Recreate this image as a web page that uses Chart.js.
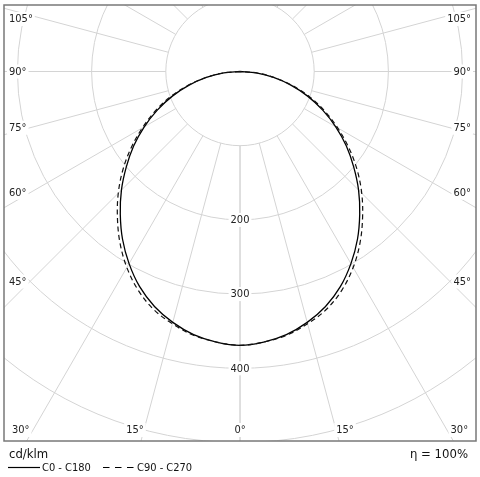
<!DOCTYPE html>
<html>
<head>
<meta charset="utf-8">
<script src="https://cdn.jsdelivr.net/npm/chart.js@4/dist/chart.umd.min.js"></script>
<style>
html,body{margin:0;padding:0;background:#fff;}
#wrap{width:480px;height:477px;}
</style>
</head>
<body>
<div id="wrap"><canvas id="c" width="480" height="477"></canvas></div>
<script>
// ---- data (cd/klm) ----
const gammaDeg = [0,5,10,15,20,25,30,35,40,45,50,55,60,65,70,75,80,85,90];
const c0   = [369,366,360,350,337,320,299,276,251,226,200,175,149,123,97,71,46,22,0];
const c180 = [369,366,360,350,337,320,299,276,251,226,200,175,149,123,97,71,46,22,0];
const c90  = [369,366,361,352,341,325,305,282,257,232,206,179,152,126,100,73,47,23,0];
const c270 = [369,366,361,352,341,325,305,282,257,232,206,179,152,126,100,73,47,23,0];
const seriesNames = ['C0 - C180','C90 - C270'];
// ---- axis ticks ----
const rings = [100,200,300,400,500];
const ringLabels = [200,300,400];
const spokeAngles = [0,15,30,45,60,75,90,105,120,135,150,165,180];
const sideLabels = [105,90,75,60,45];
const bottomLabels = [30,15,0];
const unitText = 'cd/klm';
const etaText = '\u03B7 = 100%';

const PXU = 0.742; // pixels per cd/klm
const FONT = '"DejaVu Sans Condensed","DejaVu Sans",sans-serif';

function halfCurve(vals, sign){
  return gammaDeg.map((g,i)=>{
    const a = g*Math.PI/180;
    return {x: sign*vals[i]*Math.sin(a), y: -vals[i]*Math.cos(a)};
  });
}
function fullCurve(left, right){
  const l = halfCurve(left,-1).reverse();
  const r = halfCurve(right,1).slice(1);
  return l.concat(r);
}

const gridPlugin = {
  id:'polarGrid',
  beforeDatasetsDraw(chart){
    const {ctx, chartArea:ca, scales:{x,y}} = chart;
    const cx = x.getPixelForValue(0), cy = y.getPixelForValue(0);
    const k = x.getPixelForValue(100) - cx; // px per 100
    const rp = v => v/100*k;
    ctx.save();
    ctx.beginPath(); ctx.rect(ca.left, ca.top, ca.right-ca.left, ca.bottom-ca.top); ctx.clip();
    ctx.strokeStyle = '#d4d4d4'; ctx.lineWidth = 1;
    rings.forEach(r=>{ ctx.beginPath(); ctx.arc(cx,cy,rp(r),0,Math.PI*2); ctx.stroke(); });
    spokeAngles.forEach(g=>{
      const a = g*Math.PI/180;
      [1,-1].forEach(s=>{
        const dx = s*Math.sin(a), dy = Math.cos(a);
        ctx.beginPath();
        ctx.moveTo(cx+dx*rp(rings[0]), cy+dy*rp(rings[0]));
        ctx.lineTo(cx+dx*rp(900), cy+dy*rp(900));
        ctx.stroke();
      });
    });
    // labels with white backgrounds
    ctx.font = '11px '+FONT;
    ctx.textBaseline = 'middle';
    function lab(t, px, py, align){
      const w = ctx.measureText(t).width;
      let x0 = align==='left'?px:(align==='right'?px-w:px-w/2);
      ctx.fillStyle = '#fff';
      ctx.fillRect(x0-2, py-7, w+4, 14);
      ctx.fillStyle = '#222';
      ctx.textAlign = 'left';
      ctx.fillText(t, x0, py+0.5);
    }
    ringLabels.forEach(r=> lab(String(r), cx, cy+rp(r), 'center'));
    const inset = 26;
    sideLabels.forEach(g=>{
      const a = g*Math.PI/180;
      const dxl = cx-(ca.left+inset);
      let py = cy + dxl/Math.tan(a);
      if (Math.abs(Math.cos(a))<1e-9) py = cy;
      py = Math.max(py, ca.top+14);
      lab(g+'\u00B0', ca.left+5, py, 'left');
      lab(g+'\u00B0', ca.right-5, py, 'right');
    });
    const by = ca.bottom-11;
    bottomLabels.forEach(g=>{
      const a = g*Math.PI/180;
      const off = g===0?0:(ca.bottom-cy)*Math.tan(a)+6;
      lab(g+'\u00B0', cx-off, by, 'center');
      if (g!==0) lab(g+'\u00B0', cx+off, by, 'center');
    });
    ctx.restore();
  },
  afterDraw(chart){
    const {ctx, chartArea:ca} = chart;
    ctx.save();
    ctx.strokeStyle = '#787878'; ctx.lineWidth = 1.5;
    ctx.strokeRect(ca.left, ca.top, ca.right-ca.left, ca.bottom-ca.top);
    ctx.fillStyle = '#111';
    ctx.textBaseline = 'middle';
    ctx.font = '13px '+FONT;
    ctx.textAlign = 'left';
    ctx.fillText(unitText, 9, 455);
    ctx.textAlign = 'right';
    ctx.fillText(etaText, 468, 455);
    ctx.font = '11px '+FONT;
    ctx.textAlign = 'left';
    ctx.strokeStyle = '#000'; ctx.lineWidth = 1.2;
    ctx.beginPath(); ctx.moveTo(8,467.5); ctx.lineTo(40,467.5); ctx.stroke();
    ctx.fillText(seriesNames[0], 42, 468);
    ctx.setLineDash([6.5,5.5]);
    ctx.beginPath(); ctx.moveTo(103,467.5); ctx.lineTo(134,467.5); ctx.stroke();
    ctx.setLineDash([]);
    ctx.fillText(seriesNames[1], 137, 468);
    ctx.restore();
  }
};

const padL=4, padT=5, padR=4, padB=36;
const areaW = 480-padL-padR, areaH = 477-padT-padB;
const centerFromTop = 66.5;
new Chart(document.getElementById('c'), {
  type:'scatter',
  data:{datasets:[
    {label:seriesNames[1], data:fullCurve(c270,c90), showLine:true, borderColor:'#111', borderWidth:1.2, borderDash:[5,3.5], pointRadius:0, tension:0.35, fill:false},
    {label:seriesNames[0], data:fullCurve(c180,c0), showLine:true, borderColor:'#000', borderWidth:1.3, pointRadius:0, tension:0.35, fill:false}
  ]},
  options:{
    responsive:false, animation:false, events:[],
    layout:{padding:{left:padL,top:padT,right:padR,bottom:padB}},
    plugins:{legend:{display:false}, tooltip:{enabled:false}},
    scales:{
      x:{type:'linear', display:false, min:-(areaW/2)/PXU, max:(areaW/2)/PXU},
      y:{type:'linear', display:false, min:-(areaH-centerFromTop)/PXU, max:centerFromTop/PXU}
    }
  },
  plugins:[gridPlugin]
});
</script>
</body>
</html>
